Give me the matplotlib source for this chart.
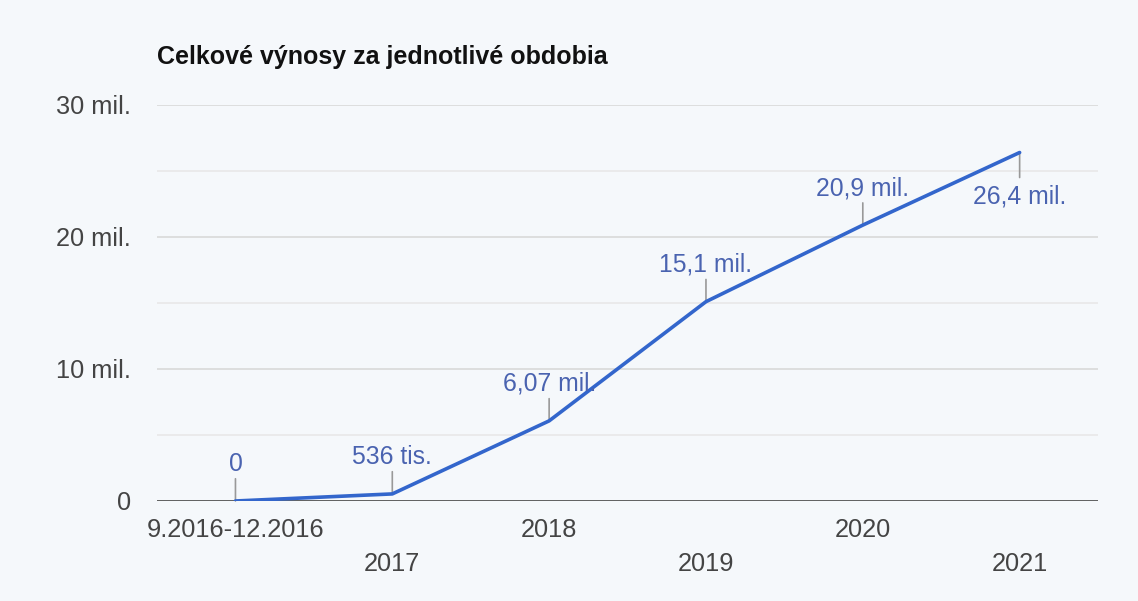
import numpy as np
from matplotlib import pyplot as plt

periods = ["9.2016-12.2016", "2017", "2018", "2019", "2020", "2021"]
revenue = [0, 0.536, 6.07, 15.1, 20.9, 26.4]   # mil. EUR
labels = ["0", "536 tis.", "6,07 mil.", "15,1 mil.", "20,9 mil.", "26,4 mil."]
yticks = [0, 10, 20, 30]
ytick_labels = ["0", "10 mil.", "20 mil.", "30 mil."]

plt.rcParams['font.family'] = ['Liberation Sans', 'DejaVu Sans']
bg = '#f5f8fb'

fig = plt.figure(figsize=(11.38, 6.01), dpi=100, facecolor=bg)
ax = fig.add_axes([0.138, 0.1664, 0.8269, 0.6589], facecolor=bg)

x = np.arange(len(periods)) + 0.5
ax.plot(x, revenue, color='#3366cc', lw=2.6, solid_capstyle='round', zorder=3)

#gridlines, every 5 mil.
for v in np.arange(5, 31, 5):
    ax.axhline(v, color='#d9d9d9' if v % 10 == 0 else '#e8e8e8', lw=1.2, zorder=1)
ax.axhline(0, color='#333333', lw=1.8, zorder=2)

#value labels with little stems
for i, (xi, yi, t) in enumerate(zip(x, revenue, labels)):
    up = i < len(x) - 1
    d = 16 if up else -18
    ax.annotate("", xy=(xi, yi), xytext=(0, d), textcoords='offset points',
                arrowprops=dict(arrowstyle='-', color='#999999', lw=1.2,
                                shrinkA=0, shrinkB=0), zorder=2)
    ax.annotate(t, xy=(xi, yi), xytext=(0, d + (2 if up else -5)),
                textcoords='offset points', ha='center',
                va='bottom' if up else 'top', fontsize=17.8, color='#4a63b0')

ax.set_xlim(0, 6)
ax.set_ylim(0, 30)
ax.set_yticks(yticks, ytick_labels)
ax.set_xticks(x[::2], periods[::2])
ax.set_xticks(x[1::2], periods[1::2], minor=True)
ax.tick_params(axis='y', length=0, pad=19, labelsize=18.3, labelcolor='#444444')
ax.tick_params(axis='x', which='both', length=0, labelsize=18.3, labelcolor='#444444')
ax.tick_params(axis='x', which='major', pad=12)
ax.tick_params(axis='x', which='minor', pad=37)
for s in ax.spines.values():
    s.set_visible(False)

fig.text(0.138, 1 - 57 / 601, "Celkové výnosy za jednotlivé obdobia",
         fontsize=18, fontweight='bold', color='#111111', va='center')

fig.savefig('out.png', dpi=100, facecolor=bg)
